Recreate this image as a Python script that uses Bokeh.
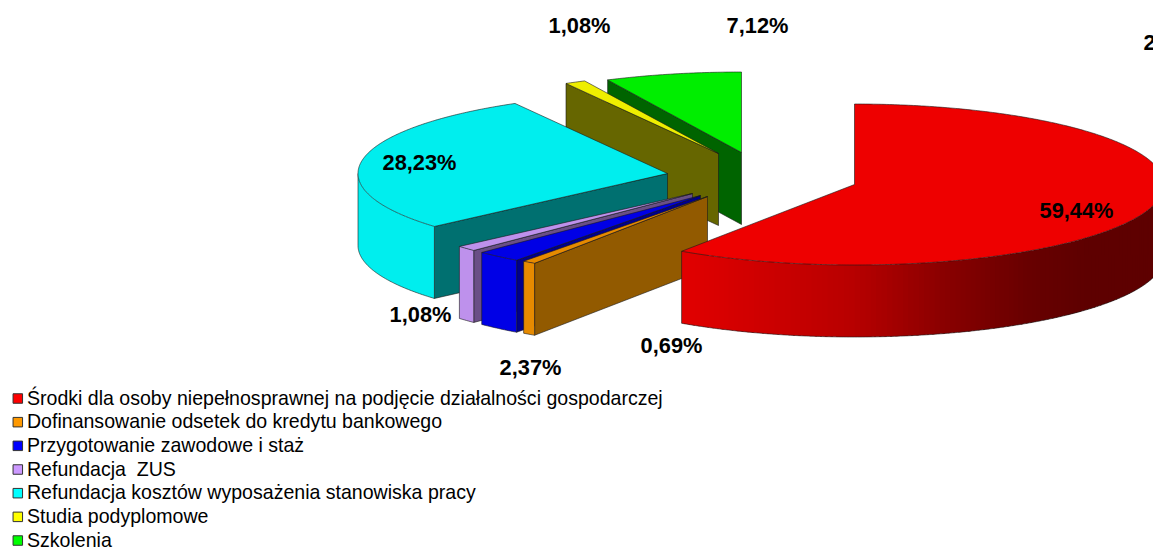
import numpy as np
from bokeh.plotting import figure
from bokeh.embed import file_html
from bokeh.resources import INLINE
from bokeh.models import Range1d
from bokeh.core.properties import value

# ---- data
categories = ["Środki dla osoby niepełnosprawnej na podjęcie działalności gospodarczej",
              "Dofinansowanie odsetek do kredytu bankowego",
              "Przygotowanie zawodowe i staż",
              "Refundacja\u00a0 ZUS",
              "Refundacja kosztów wyposażenia stanowiska pracy",
              "Studia podyplomowe",
              "Szkolenia"]
shares = [59.44, 0.69, 2.37, 1.08, 28.23, 1.08, 7.12]
slice_labels = ["59,44%", "0,69%", "2,37%", "1,08%", "28,23%", "1,08%", "7,12%"]

# ---- styling / layout
legend_colors = ["#FF0000", "#FF9900", "#0000FF", "#CC99FF", "#00FFFF", "#FFFF00", "#00FF00"]
top_colors = ["#EE0000", "#E68A00", "#0000E6", "#BE91EC", "#00EEEE", "#EEEE00", "#00EE00"]
face_colors = ["#600000", "#925A00", "#00008C", "#6A4F86", "#007070", "#666600", "#006400"]
wall_colors = ["#C00000", "#E68A00", "#0000E6", "#BE91EC", "#00EEEE", "#EEEE00", "#00EE00"]
pivots = [(854, 184), (707, 196), (700, 195), (692, 193), (667, 173), (718, 153), (741, 152)]
label_pos = [(1076, 210), (671, 345), (530, 367), (420, 314), (419, 162), (579, 25), (757, 25)]
RX, RY, DEPTH = 309.5, 80.5, 72
EDGE = "#1a1a1a"

p = figure(width=1153, height=547, x_range=Range1d(0, 1153), y_range=Range1d(547, 0),
           output_backend="svg", toolbar_location=None, min_border=0,
           outline_line_color=None, background_fill_color="white", border_fill_color="white")
p.axis.visible = False
p.grid.visible = False

def pt(c, deg, drop=0.0):
    a = np.radians(deg)
    return c[0] + RX * np.sin(a), c[1] - RY * np.cos(a) + drop

def arc(c, a0, a1, drop=0.0):
    n = max(2, int(abs(a1 - a0) * 2) + 2)
    ang = np.linspace(a0, a1, n)
    x, y = pt(c, ang, drop)
    return list(x), list(y)

def red_ramp(xpos):
    return np.interp(xpos, [681, 850, 950, 1030, 1090, 1163], [226, 185, 135, 104, 94, 94])

edges = np.concatenate([[0], np.cumsum(shares)]) / sum(shares) * 360

# draw back to front: green, yellow, cyan, purple, blue, orange, red
for i in [6, 5, 4, 3, 2, 1, 0]:
    a0, a1, c = edges[i], edges[i + 1], pivots[i]
    if a0 > 180:
        fx, fy = pt(c, a0)
        p.patch([c[0], fx, fx, c[0]], [c[1], fy, fy + DEPTH, c[1] + DEPTH],
                fill_color=face_colors[i], line_color=EDGE, line_width=0.6)
    w0, w1 = max(a0, 90), min(a1, 270)
    if w1 > w0:
        ux, uy = arc(c, w0, w1)
        if i == 0:
            # shaded strips; each overlaps its neighbour so no white seam shows
            n = len(ux)
            for k in range(0, n - 1, 2):
                e = min(k + 4, n)
                shade = int(red_ramp((ux[k] + ux[min(k + 2, n - 1)]) / 2))
                col = f"#{shade:02x}0000"
                sx, sy = ux[k:e], uy[k:e]
                p.patch(sx + sx[::-1], sy + [v + DEPTH for v in sy[::-1]],
                        fill_color=col, line_color=None)
        else:
            p.patch(ux + ux[::-1], uy + [v + DEPTH for v in uy[::-1]],
                    fill_color=wall_colors[i], line_color=None)
        p.line(ux, [v + DEPTH for v in uy], line_color=EDGE, line_width=0.6)
        p.line([ux[-1 if i == 0 else 0]] * 2, [uy[-1 if i == 0 else 0], uy[-1 if i == 0 else 0] + DEPTH],
               line_color=EDGE, line_width=0.6)
        if i != 0:
            p.line([ux[-1], ux[-1]], [uy[-1], uy[-1] + DEPTH], line_color=EDGE, line_width=0.6)
    tx, ty = arc(c, a0, a1)
    p.patch([c[0]] + tx, [c[1]] + ty, fill_color=top_colors[i], line_color=EDGE, line_width=0.6)

p.text([q[0] for q in label_pos], [q[1] for q in label_pos], text=slice_labels,
       text_font=value("Liberation Sans"), text_font_style="bold",
       text_font_size=value("21.8px"), text_color="black",
       text_align="center", text_baseline="middle")
p.text([1143], [42], text=["2"], text_font=value("Liberation Sans"), text_font_style="bold",
       text_font_size=value("21.8px"), text_color="black", text_align="left", text_baseline="middle")

rows = 398 + 23.67 * np.arange(len(categories))
p.rect([17.3] * len(categories), rows, width=9.5, height=9.5, fill_color=legend_colors,
       line_color="#333333", line_width=1)
p.text([26.5] * len(categories), rows - 1, text=categories, text_font=value("Liberation Sans"),
       text_font_size=value("19.56px"), text_color="black", text_align="left",
       text_baseline="middle")

open("out.html", "w").write(file_html(p, INLINE))
